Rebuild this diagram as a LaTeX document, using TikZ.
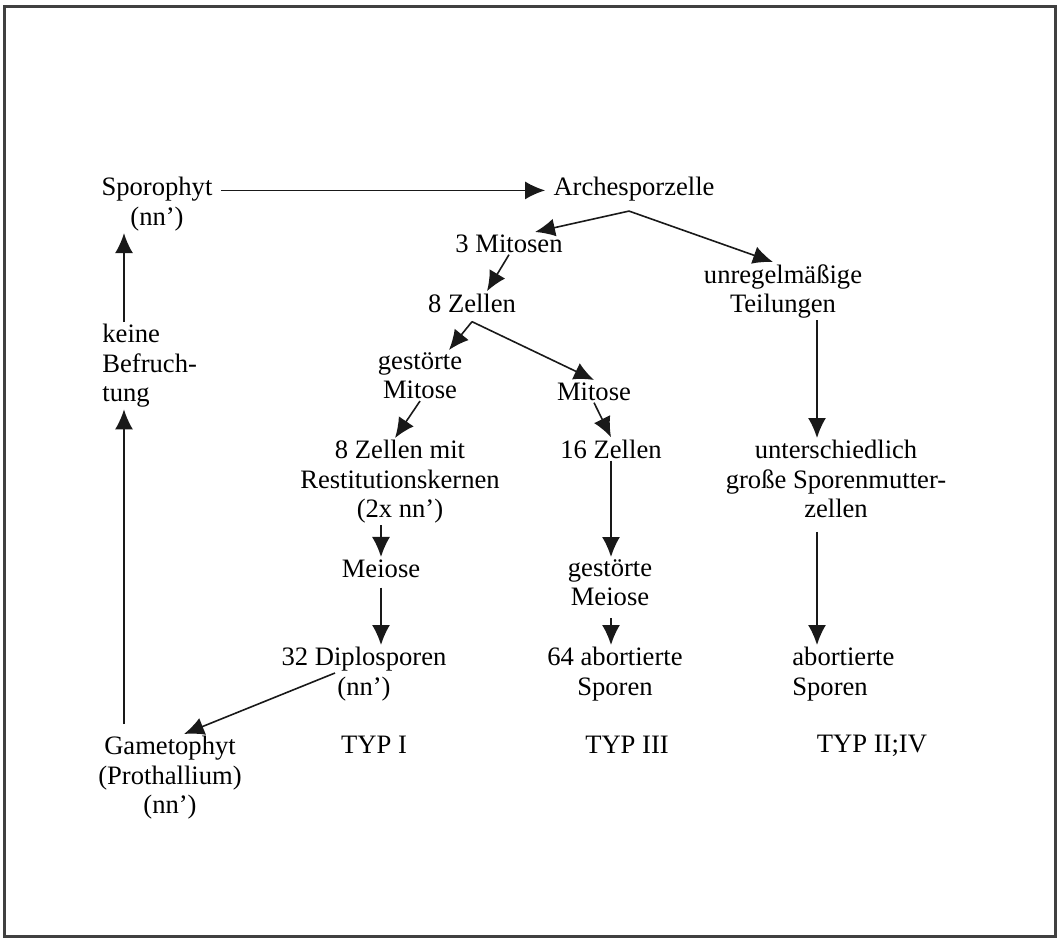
\documentclass[tikz,border=0pt]{standalone}
\usepackage{fontspec}
\setmainfont{Liberation Serif}
\usetikzlibrary{arrows.meta}

\begin{document}
\begin{tikzpicture}[x=0.5pt, y=-0.5pt,
    every node/.style={font=\fontsize{13.3pt}{14.6pt}\selectfont, inner xsep=4pt, inner ysep=1pt},
    pfeil/.style={draw=black!90, line width=0.8pt, -{Latex[length=10pt,width=9pt]}},
    rahmen/.style={draw=black!75, line width=1.5pt}]
    \useasboundingbox (0,0) rectangle (1061,944);
    \draw[rahmen] (4,6) rectangle (1055,936);

    \node[anchor=north, align=center] (sporo) at (157,175) {Sporophyt\\(nn’)};
    \node[anchor=base] (arch) at (634,195) {Archesporzelle};
    \node[anchor=base] (mit3) at (509,252) {3 Mitosen};
    \node[anchor=north, align=center] (unreg) at (783,262) {unregelmäßige\\Teilungen};
    \node[anchor=base] (zell8) at (472,312) {8 Zellen};
    \node[anchor=north, align=center] (gmit) at (420,350) {gestörte\\Mitose};
    \node[anchor=base] (mitR) at (594,400) {Mitose};
    \node[anchor=north, align=center] (zellmit) at (400,438) {8 Zellen mit\\Restitutionskernen\\(2x nn’)};
    \node[anchor=base] (zell16) at (611,458) {16 Zellen};
    \node[anchor=north, align=center] (untersch) at (836,438) {unterschiedlich\\große Sporenmutter-\\zellen};
    \node[anchor=base] (meiose) at (381,577) {Meiose};
    \node[anchor=north, align=center] (gmeiose) at (610,557) {gestörte\\Meiose};
    \node[anchor=north, align=center] (dipl) at (364,645) {32 Diplosporen\\(nn’)};
    \node[anchor=north, align=center] (abort64) at (615,645) {64 abortierte\\Sporen};
    \node[anchor=north west, align=left] (abortsp) at (784,645) {abortierte\\Sporen};
    \node[anchor=base] (typ1) at (374,753) {TYP I};
    \node[anchor=base] (typ3) at (627,753) {TYP III};
    \node[anchor=base] (typ24) at (872,752) {TYP II;IV};
    \node[anchor=north, align=center] (gameto) at (170,734) {Gametophyt\\(Prothallium)\\(nn’)};
    \node[anchor=north west, align=left] (befr) at (94,322) {keine\\Befruch-\\tung};

    \coordinate (links) at (124,0);
    \coordinate (rechts) at (817,0);
    \coordinate (archfork) at ([xshift=-2.5pt,yshift=-4pt]arch.south);
    \coordinate (zellfork) at ([yshift=-3.5pt]zell8.south);

    \draw[pfeil] (sporo.east |- arch.mid west) -- (arch.mid west);
    \draw[pfeil] (archfork) -- ([xshift=13pt]mit3.north);
    \draw[pfeil] (archfork) -- ([xshift=-5pt]unreg.north);
    \draw[pfeil] (mit3.south) -- ([xshift=7.5pt]zell8.north);
    \draw[pfeil] (zellfork) -- ([xshift=14.5pt]gmit.north);
    \draw[pfeil] (zellfork) -- (mitR.north);
    \draw[pfeil] (gmit.south) -- ([xshift=-2.5pt]zellmit.north);
    \draw[pfeil] (mitR.south) -- (zell16.north);
    \draw[pfeil] (meiose |- zellmit.south) -- (meiose);
    \draw[pfeil, shorten <=4pt] (meiose) -- (meiose |- dipl.north);
    \draw[pfeil] (zell16) -- (zell16 |- gmeiose.north);
    \draw[pfeil, shorten <=5pt] (zell16 |- gmeiose.south) -- (zell16 |- abort64.north);
    \draw[pfeil] (rechts |- unreg.south) -- (rechts |- untersch.north);
    \draw[pfeil, shorten <=6pt] (rechts |- untersch.south) -- (rechts |- abortsp.north);
    \draw[pfeil] ([xshift=-14.5pt,yshift=-14pt]dipl.north) -- ([xshift=7pt]gameto.north);
    \draw[pfeil, shorten <=5pt] (links |- gameto.north) -- (links |- befr.south);
    \draw[pfeil] (links |- befr.north) -- (links |- sporo.south);
\end{tikzpicture}
\end{document}
